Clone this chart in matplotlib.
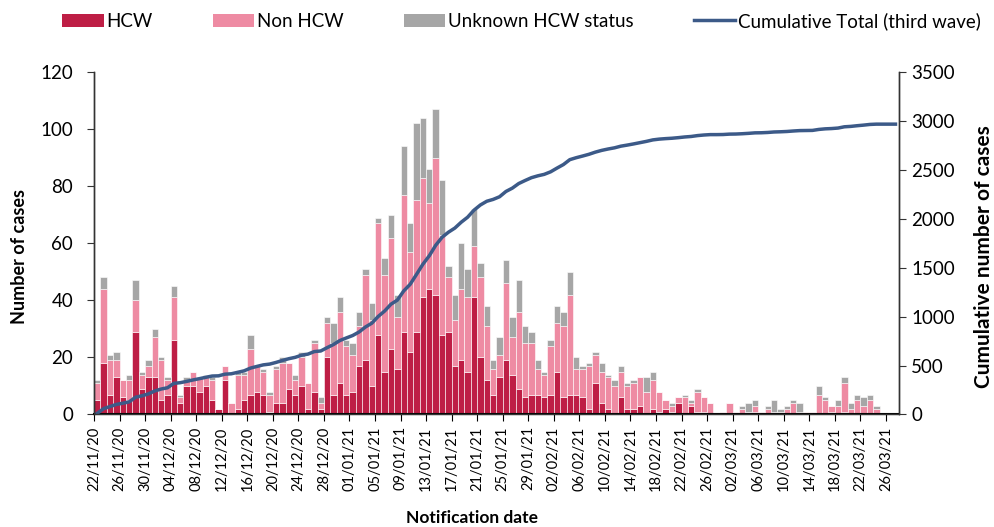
import numpy as np
import pandas as pd
import matplotlib
matplotlib.use("Agg")
import matplotlib.pyplot as plt
from matplotlib.patches import Patch
from matplotlib.lines import Line2D

plt.rcParams['font.family'] = ['Lato', 'DejaVu Sans']

# daily notifications from 22/11/20, one value per day
start_date = '2020-11-22'
hcw = [5, 18, 7, 13, 6, 5, 29, 9, 13, 13,
       5, 7, 26, 4, 10, 10, 8, 10, 5, 2,
       12, 0, 2, 5, 7, 8, 7, 1, 4, 4,
       9, 7, 10, 2, 8, 2, 20, 7, 11, 7,
       8, 17, 19, 10, 28, 15, 23, 16, 29, 22,
       29, 41, 44, 42, 28, 29, 17, 19, 15, 41,
       20, 12, 7, 13, 19, 14, 9, 6, 7, 7,
       6, 7, 15, 6, 7, 7, 6, 2, 11, 4,
       2, 0, 6, 2, 2, 3, 0, 2, 1, 2,
       1, 4, 0, 3, 1, 1, 0, 0, 0, 0,
       0, 0, 0, 1, 0, 0, 0, 0, 0, 0,
       0, 0, 0, 0, 0, 1, 0, 1, 0, 0,
       0, 0, 0, 0, 0, 0]
non_hcw = [6, 26, 12, 6, 6, 7, 11, 5, 4, 14,
           14, 5, 15, 2, 2, 5, 5, 3, 7, 0,
           5, 4, 12, 9, 16, 9, 8, 6, 12, 14,
           9, 5, 10, 9, 17, 2, 12, 18, 25, 17,
           13, 14, 30, 23, 39, 34, 39, 18, 48, 35,
           46, 42, 30, 48, 35, 19, 16, 25, 26, 18,
           28, 19, 9, 8, 27, 13, 27, 19, 18, 9,
           8, 17, 17, 25, 35, 9, 10, 15, 10, 11,
           11, 10, 9, 8, 9, 10, 8, 10, 7, 3,
           2, 2, 6, 1, 7, 5, 4, 0, 1, 4,
           1, 2, 1, 2, 1, 2, 1, 1, 2, 4,
           1, 1, 1, 7, 5, 2, 3, 10, 2, 5,
           3, 5, 2, 0, 0, 0]
unknown = [1, 4, 2, 3, 0, 2, 7, 1, 2, 3,
           1, 1, 4, 1, 1, 0, 0, 1, 1, 0,
           0, 0, 1, 1, 5, 0, 1, 1, 1, 2,
           0, 2, 2, 0, 1, 2, 2, 7, 5, 2,
           4, 5, 2, 6, 2, 6, 8, 8, 17, 10,
           27, 21, 12, 17, 19, 4, 9, 16, 10, 13,
           5, 7, 3, 6, 8, 7, 11, 6, 4, 3,
           1, 2, 6, 5, 8, 4, 1, 1, 1, 3,
           1, 2, 2, 1, 1, 0, 5, 3, 0, 0,
           1, 0, 1, 1, 1, 0, 0, 0, 0, 0,
           0, 1, 3, 2, 0, 1, 4, 1, 1, 1,
           3, 0, 0, 3, 1, 0, 2, 2, 2, 2,
           3, 2, 1, 0, 0, 0]

hcw = np.array(hcw)
non_hcw = np.array(non_hcw)
unknown = np.array(unknown)
cumulative = np.cumsum(hcw + non_hcw + unknown)

dates = pd.date_range(start_date, periods=len(hcw))
x = np.arange(len(hcw)) + 0.5

c_hcw = '#BE1E45'
c_non = '#EE8BA3'
c_unk = '#A6A6A6'
c_line = '#3C5A88'

fig = plt.figure(figsize=(9.94, 5.27), dpi=100)
ax = fig.add_axes([0.0946, 0.2135, 0.8095, 0.6499])
ax2 = ax.twinx()

ax.bar(x, hcw, width=1.0, color=c_hcw, edgecolor='white', linewidth=0.4)
ax.bar(x, non_hcw, width=1.0, bottom=hcw, color=c_non, edgecolor='white', linewidth=0.4)
ax.bar(x, unknown, width=1.0, bottom=hcw + non_hcw, color=c_unk, edgecolor='white', linewidth=0.4)
ax2.plot(x, cumulative, color=c_line, linewidth=2.5)

ax.set_xlim(0, len(hcw))
ax.set_ylim(0, 120)
ax2.set_ylim(0, 3500)
ax.set_yticks(np.arange(0, 121, 20))
ax2.set_yticks(np.arange(0, 3501, 500))

tick_idx = np.arange(0, len(hcw), 4)
ax.set_xticks(tick_idx)
ax.set_xticklabels([dates[i].strftime('%d/%m/%y') for i in tick_idx], rotation=90, fontsize=10.5)

for a in (ax, ax2):
    a.spines['top'].set_visible(False)
    for s in ('left', 'right', 'bottom'):
        a.spines[s].set_color('#333333')
        a.spines[s].set_linewidth(1.0)
ax.spines['bottom'].set_linewidth(1.5)
ax.spines['bottom'].set_color('black')
ax.tick_params(axis='y', labelsize=13.5, length=5, pad=10, direction='out',
               colors='#333333', labelcolor='black')
ax2.tick_params(axis='y', labelsize=13.5, length=5, pad=4, direction='out',
                colors='#333333', labelcolor='black')
ax.tick_params(axis='x', length=5, direction='out', colors='black')

fig.text(0.020, 0.5135, 'Number of cases', rotation=90, ha='center', va='center',
         fontsize=13, fontweight='bold')
fig.text(0.990, 0.5135, 'Cumulative number of cases', rotation=90, ha='center', va='center',
         fontsize=15, fontweight='bold')
fig.text(0.475, 0.018, 'Notification date', ha='center', va='center',
         fontsize=12.5, fontweight='bold')

handles = [Patch(facecolor=c_hcw), Patch(facecolor=c_non), Patch(facecolor=c_unk),
           Line2D([0], [0], color=c_line, linewidth=2.5)]
labels = ['HCW', 'Non HCW', 'Unknown HCW status', 'Cumulative Total (third wave)']
fig.legend(handles, labels, loc='center', bbox_to_anchor=(0.5247, 0.96), ncol=4,
           frameon=False, fontsize=13.5, handlelength=2.2, handleheight=0.75,
           handletextpad=0.16, columnspacing=3.2)

fig.savefig('out.png', dpi=100)
